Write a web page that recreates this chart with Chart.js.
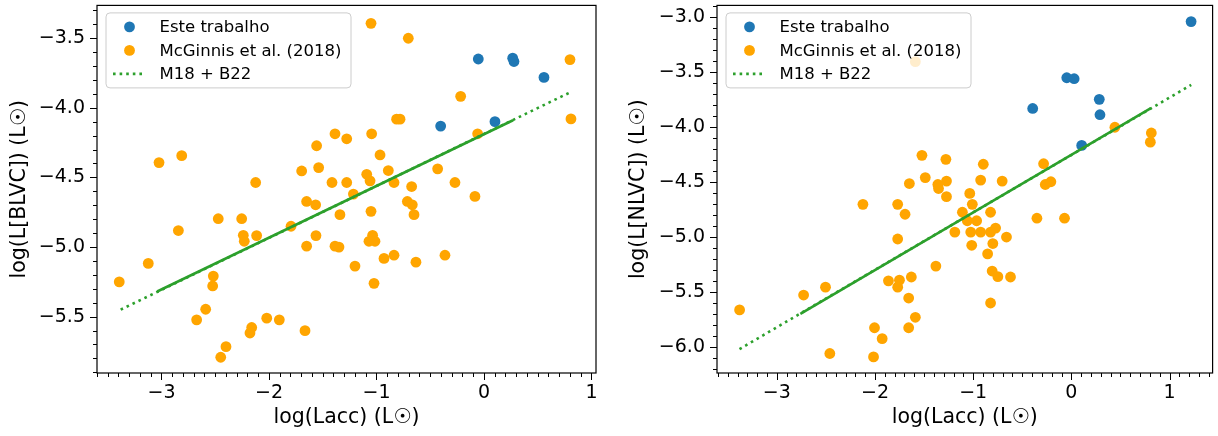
<!DOCTYPE html>
<html>
<head>
<meta charset="utf-8">
<script src="https://cdn.jsdelivr.net/npm/chart.js@4.4.0/dist/chart.umd.min.js"></script>
<style>
  html, body { margin: 0; padding: 0; background: #fff; }
  #wrap { position: relative; width: 1218px; height: 436px; }
  canvas { position: absolute; top: 0; }
</style>
</head>
<body>
<div id="wrap">
  <canvas id="blvc" width="610" height="436" style="left:0"></canvas>
  <canvas id="nlvc" width="608" height="436" style="left:610px"></canvas>
</div>
<script>
// left panel: log L[BLVC] against log Lacc
let blvcBlueX = [-0.053, 0.267, 0.279, 0.558, -0.403, 0.102]
let blvcBlueY = [-3.650, -3.644, -3.668, -3.782, -4.132, -4.100]
let blvcOrangeX = [-1.051, -0.704, 0.800, -0.217, -0.813, -0.781, 0.809, -3.023, -2.812, -1.386,
    -1.277, -1.045, -0.059, -1.557, -0.967, -1.696, -1.538, -0.890, -0.431, -1.091,
    -1.060, -2.124, -1.414, -1.277, -0.837, -0.673, -0.270, -0.084, -1.215, -1.650,
    -1.566, -0.713, -0.667, -0.651, -1.340, -1.051, -2.472, -2.254, -2.843, -1.795,
    -2.239, -2.230, -2.115, -1.563, -1.650, -1.386, -1.349, -1.036, -1.070, -1.014,
    -0.930, -0.837, -0.633, -0.363, -3.123, -3.393, -1.200, -1.023, -2.518, -2.524,
    -2.589, -2.673, -2.161, -2.177, -2.021, -1.904, -1.665, -2.400, -2.449]
let blvcOrangeY = [-3.394, -3.501, -3.654, -3.918, -4.082, -4.082, -4.080, -4.394, -4.344, -4.187,
    -4.223, -4.187, -4.187, -4.273, -4.339, -4.454, -4.430, -4.451, -4.439, -4.478,
    -4.525, -4.537, -4.537, -4.537, -4.537, -4.566, -4.537, -4.637, -4.620, -4.673,
    -4.697, -4.673, -4.697, -4.768, -4.768, -4.744, -4.797, -4.797, -4.882, -4.851,
    -4.916, -4.959, -4.918, -4.918, -4.994, -4.994, -5.001, -4.916, -4.959, -4.959,
    -5.082, -5.059, -5.109, -5.059, -5.118, -5.251, -5.137, -5.261, -5.209, -5.280,
    -5.447, -5.523, -5.578, -5.618, -5.511, -5.523, -5.601, -5.716, -5.792]
let blvcFitX = [-3.38, 0.80]
let blvcFitY = [-5.45, -3.89]
// stretch where the dotted fit is drawn over itself and looks solid
let blvcDenseX = [-3.04, 0.27]
let blvcDenseY = [-5.32, -4.09]
let blvcYTicks = [-5.5, -5.0, -4.5, -4.0, -3.5]

// right panel: log L[NLVC] against log Lacc
let nlvcBlueX = [1.219, -0.047, 0.028, -0.394, 0.284, 0.291, 0.105]
let nlvcBlueY = [-3.045, -3.555, -3.564, -3.834, -3.751, -3.891, -4.170]
let nlvcOrangeX = [-1.589, 0.443, 0.814, 0.804, -1.522, -1.278, -0.897, -0.283, -1.650, -1.488,
    -1.360, -1.353, -1.272, -0.924, -0.705, -0.266, -0.209, -1.272, -1.035, -2.123,
    -1.769, -1.694, -1.009, -1.110, -0.823, -1.060, -0.965, -0.772, -1.187, -1.025,
    -0.924, -0.823, -0.661, -1.769, -1.015, -0.800, -0.853, -0.351, -0.070, -1.380,
    -0.807, -0.749, -0.620, -1.863, -1.751, -1.630, -1.769, -1.657, -2.504, -2.727,
    -0.823, -1.589, -2.005, -1.657, -1.927, -3.379, -2.460, -2.015]
let nlvcOrangeY = [-3.409, -4.005, -4.057, -4.140, -4.260, -4.296, -4.341, -4.336, -4.516, -4.462,
    -4.525, -4.561, -4.494, -4.485, -4.494, -4.525, -4.500, -4.635, -4.606, -4.705,
    -4.705, -4.795, -4.705, -4.777, -4.777, -4.854, -4.854, -4.921, -4.957, -4.957,
    -4.957, -4.957, -5.002, -5.020, -5.077, -5.061, -5.155, -4.831, -4.831, -5.266,
    -5.311, -5.362, -5.365, -5.400, -5.394, -5.365, -5.457, -5.556, -5.457, -5.529,
    -5.601, -5.731, -5.826, -5.826, -5.925, -5.664, -6.060, -6.091]
let nlvcFitX = [-3.38, 1.22]
let nlvcFitY = [-6.02, -3.62]
let nlvcDenseX = [-2.76, 0.81]
let nlvcDenseY = [-5.70, -3.83]
let nlvcYTicks = [-6.0, -5.5, -5.0, -4.5, -4.0, -3.5, -3.0]

let laccTicks = [-3, -2, -1, 0, 1]

const BLUE = '#1f77b4'
const ORANGE = '#ffa500'
const GREEN = '#2ca02c'
const FONT = '"DejaVu Sans", Verdana, sans-serif'

function pts(xs, ys) {
    return xs.map((x, i) => ({ x: x, y: ys[i] }))
}

function minus(s) {
    return s.replace('-', '\u2212')
}

// outward major and minor ticks, like matplotlib with minor ticks on
function drawTicks(ctx, scale, step, major, area) {
    let start = Math.ceil(scale.min / step - 1e-6)
    let end = Math.floor(scale.max / step + 1e-6)
    for (let i = start; i <= end; i++) {
        let v = i * step
        let isMajor = Math.abs(v / major - Math.round(v / major)) < 1e-6
        let len = isMajor ? 7 : 4
        let p = Math.round(scale.getPixelForValue(v)) + 0.5
        ctx.beginPath()
        if (scale.isHorizontal()) {
            ctx.moveTo(p, area.bottom)
            ctx.lineTo(p, area.bottom + len)
        } else {
            ctx.moveTo(area.left, p)
            ctx.lineTo(area.left - len, p)
        }
        ctx.stroke()
    }
}

const framePlugin = {
    id: 'frame',
    afterDatasetsDraw(chart) {
        // legend goes over the markers, as in matplotlib
        let ctx = chart.ctx
        let a = chart.chartArea
        let bx = a.left + 9, by = a.top + 7.5, bw = 245, bh = 75
        ctx.save()
        ctx.beginPath()
        ctx.roundRect(bx, by, bw, bh, 4)
        ctx.fillStyle = 'rgba(255,255,255,0.8)'
        ctx.fill()
        ctx.strokeStyle = '#cccccc'
        ctx.lineWidth = 1
        ctx.stroke()
        let items = chart.data.datasets.filter(d => d.label)
        ctx.font = '16.5px ' + FONT
        ctx.textBaseline = 'middle'
        items.forEach((d, i) => {
            let y = by + 14 + i * 23.5
            if (d.showLine) {
                ctx.beginPath()
                ctx.setLineDash(d.borderDash || [])
                ctx.strokeStyle = d.borderColor
                ctx.lineWidth = d.borderWidth
                ctx.moveTo(bx + 7, y)
                ctx.lineTo(bx + 37, y)
                ctx.stroke()
                ctx.setLineDash([])
            } else {
                ctx.beginPath()
                ctx.arc(bx + 23.5, y, 5.4, 0, Math.PI * 2)
                ctx.fillStyle = d.backgroundColor
                ctx.fill()
            }
            ctx.fillStyle = '#000'
            ctx.fillText(d.label, bx + 53.5, y + 1)
        })
        ctx.restore()
    },
    afterDraw(chart) {
        let ctx = chart.ctx
        let a = chart.chartArea
        ctx.save()
        ctx.strokeStyle = '#000'
        ctx.lineWidth = 1.2
        ctx.strokeRect(a.left, a.top, a.right - a.left, a.bottom - a.top)
        ctx.lineWidth = 1
        drawTicks(ctx, chart.scales.x, 0.1, 1, a)
        drawTicks(ctx, chart.scales.y, 0.1, 0.5, a)
        ctx.restore()
    }
}

function noPad(s) {
    s.paddingTop = 0
    s.paddingBottom = 0
    s.paddingLeft = 0
    s.paddingRight = 0
}

function makeChart(id, p) {
    let ctx = document.getElementById(id).getContext('2d')
    return new Chart(ctx, {
        type: 'scatter',
        data: {
            datasets: [{
                label: 'Este trabalho',
                data: pts(p.blueX, p.blueY),
                backgroundColor: BLUE,
                pointRadius: 5.4,
                borderWidth: 0,
                order: 2
            }, {
                label: 'McGinnis et al. (2018)',
                data: pts(p.orangeX, p.orangeY),
                backgroundColor: ORANGE,
                pointRadius: 5.4,
                borderWidth: 0,
                order: 1
            }, {
                label: 'M18 + B22',
                data: pts(p.fitX, p.fitY),
                showLine: true,
                borderColor: GREEN,
                borderWidth: 2.6,
                borderDash: [2.6, 4],
                pointRadius: 0,
                order: 0
            }, {
                label: '',
                data: pts(p.denseX, p.denseY),
                showLine: true,
                borderColor: GREEN,
                borderWidth: 2.6,
                pointRadius: 0,
                order: 0
            }]
        },
        options: {
            responsive: false,
            animation: false,
            devicePixelRatio: 1,
            events: [],
            layout: { padding: { top: p.top, right: p.right, left: 0, bottom: 0 } },
            plugins: { legend: { display: false }, tooltip: { enabled: false } },
            scales: {
                x: {
                    type: 'linear',
                    min: p.xMin,
                    max: p.xMax,
                    grid: { display: false, drawTicks: false },
                    border: { display: false },
                    afterBuildTicks: s => { s.ticks = laccTicks.map(v => ({ value: v })) },
                    afterFit: s => { s.height = 63; noPad(s) },
                    ticks: {
                        padding: 9,
                        color: '#000',
                        font: { family: FONT, size: 19 },
                        callback: v => minus(String(v))
                    },
                    title: {
                        display: true,
                        text: 'log(Lacc) (L\u2609)',
                        color: '#000',
                        font: { family: FONT, size: 20.5 },
                        padding: { top: 0, bottom: 6.5 }
                    }
                },
                y: {
                    type: 'linear',
                    min: p.yMin,
                    max: p.yMax,
                    grid: { display: false, drawTicks: false },
                    border: { display: false },
                    afterBuildTicks: s => { s.ticks = p.yTicks.map(v => ({ value: v })) },
                    afterFit: s => { s.width = p.axisW; noPad(s) },
                    ticks: {
                        padding: 12,
                        color: '#000',
                        font: { family: FONT, size: 19 },
                        callback: v => minus(v.toFixed(1))
                    },
                    title: {
                        display: true,
                        text: p.yTitle,
                        color: '#000',
                        font: { family: FONT, size: 20.5 },
                        padding: { top: p.titlePad, bottom: 0 }
                    }
                }
            }
        },
        plugins: [framePlugin]
    })
}

let blvcChart = makeChart('blvc', {
    blueX: blvcBlueX, blueY: blvcBlueY,
    orangeX: blvcOrangeX, orangeY: blvcOrangeY,
    fitX: blvcFitX, fitY: blvcFitY,
    denseX: blvcDenseX, denseY: blvcDenseY,
    yTicks: blvcYTicks,
    xMin: -3.6, xMax: 1.042, yMin: -5.905, yMax: -3.265,
    yTitle: 'log(L[BLVC]) (L\u2609)',
    top: 5, right: 14, axisW: 97, titlePad: 7
})

let nlvcChart = makeChart('nlvc', {
    blueX: nlvcBlueX, blueY: nlvcBlueY,
    orangeX: nlvcOrangeX, orangeY: nlvcOrangeY,
    fitX: nlvcFitX, fitY: nlvcFitY,
    denseX: nlvcDenseX, denseY: nlvcDenseY,
    yTicks: nlvcYTicks,
    xMin: -3.609, xMax: 1.438, yMin: -6.237, yMax: -2.898,
    yTitle: 'log(L[NLVC]) (L\u2609)',
    top: 2, right: 3, axisW: 107, titlePad: 16
})
</script>
</body>
</html>
